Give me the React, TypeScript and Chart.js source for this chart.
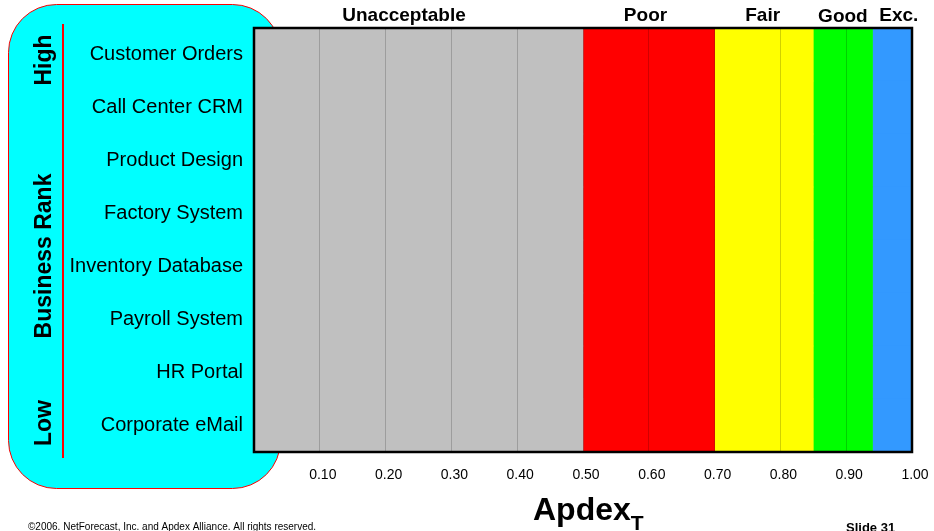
import React, { useEffect, useRef } from "react";
import { Chart, registerables } from "chart.js";

Chart.register(...registerables);

const categories = [
  "Customer Orders",
  "Call Center CRM",
  "Product Design",
  "Factory System",
  "Inventory Database",
  "Payroll System",
  "HR Portal",
  "Corporate eMail",
];
const bandLabels = ["Unacceptable", "Poor", "Fair", "Good", "Exc."];
const bandStarts = [0, 0.5, 0.7, 0.85, 0.94];
const bandEnds = [0.5, 0.7, 0.85, 0.94, 1.0];
const bandLabelAt = [0.228, 0.595, 0.773, 0.895, 0.98];
const bandColors = ["#c0c0c0", "#ff0000", "#ffff00", "#00ff00", "#3399ff"];
const rankLabels = ["High", "Business Rank", "Low"];
const xMin = 0;
const xMax = 1;
const xStep = 0.1;

const FONT = "'Liberation Sans', Arial, Helvetica, sans-serif";

const decorPlugin = {
  id: "decor",
  beforeDraw(chart: any) {
    const ctx = chart.ctx;
    ctx.save();
    ctx.fillStyle = "#ffffff";
    ctx.fillRect(0, 0, chart.width, chart.height);
    // cyan rounded panel
    const x = 8.5, y = 4.5, w = 272, h = 484, r = 48;
    ctx.beginPath();
    ctx.moveTo(x + r, y);
    ctx.lineTo(x + w - r, y);
    ctx.arcTo(x + w, y, x + w, y + r, r);
    ctx.lineTo(x + w, y + h - r);
    ctx.arcTo(x + w, y + h, x + w - r, y + h, r);
    ctx.lineTo(x + r, y + h);
    ctx.arcTo(x, y + h, x, y + h - r, r);
    ctx.lineTo(x, y + r);
    ctx.arcTo(x, y, x + r, y, r);
    ctx.closePath();
    ctx.fillStyle = "#00ffff";
    ctx.fill();
    ctx.strokeStyle = "#ff0000";
    ctx.lineWidth = 1;
    ctx.stroke();
    ctx.restore();
  },
  afterDraw(chart: any) {
    const ctx = chart.ctx;
    const area = chart.chartArea;
    const xs = chart.scales.x;
    ctx.save();
    // plot border
    ctx.strokeStyle = "#000";
    ctx.lineWidth = 2.5;
    ctx.strokeRect(area.left, area.top, area.right - area.left, area.bottom - area.top);
    // band labels
    ctx.fillStyle = "#000";
    ctx.font = `bold 19px ${FONT}`;
    ctx.textAlign = "center";
    ctx.textBaseline = "middle";
    bandLabels.forEach((lab, i) => {
      ctx.fillText(lab, xs.getPixelForValue(bandLabelAt[i]), i === 3 ? 17 : 16);
    });
    // red rank line
    ctx.strokeStyle = "#ff0000";
    ctx.lineWidth = 2;
    ctx.beginPath();
    ctx.moveTo(63, 24);
    ctx.lineTo(63, 458);
    ctx.stroke();
    // rotated rank labels
    ctx.fillStyle = "#000";
    ctx.font = `bold 23px ${FONT}`;
    const ys = [60, 256, 423];
    rankLabels.forEach((lab, i) => {
      ctx.save();
      ctx.translate(45, ys[i]);
      ctx.rotate(-Math.PI / 2);
      ctx.textAlign = "center";
      ctx.textBaseline = "middle";
      ctx.fillText(lab, 0, 0);
      ctx.restore();
    });
    // axis title Apdex_T
    ctx.textAlign = "left";
    ctx.textBaseline = "alphabetic";
    ctx.font = `bold 32px ${FONT}`;
    ctx.fillText("Apdex", 533, 520);
    const wA = ctx.measureText("Apdex").width;
    ctx.font = `bold 21px ${FONT}`;
    ctx.fillText("T", 533 + wA, 530);
    // footer
    ctx.font = `10px ${FONT}`;
    ctx.fillText("\u00a92006. NetForecast, Inc. and Apdex Alliance. All rights reserved.", 28, 530);
    ctx.font = `bold 13px ${FONT}`;
    ctx.fillText("Slide 31", 846, 532);
    ctx.restore();
  },
};

export default function App() {
  const ref = useRef<HTMLCanvasElement | null>(null);
  useEffect(() => {
    if (!ref.current) return;
    const chart = new Chart(ref.current, {
      type: "bar",
      data: {
        labels: categories,
        datasets: bandLabels.map((lab, i) => ({
          label: lab,
          data: categories.map(() => [bandStarts[i], bandEnds[i]] as any),
          backgroundColor: bandColors[i],
          borderWidth: 0,
          barPercentage: 1,
          categoryPercentage: 1,
          grouped: false,
        })),
      },
      options: {
        indexAxis: "y",
        animation: false,
        responsive: false,
        maintainAspectRatio: false,
        layout: { padding: { top: 28, right: 22, bottom: 0, left: 0 } },
        plugins: { legend: { display: false }, tooltip: { enabled: false } },
        scales: {
          x: {
            type: "linear",
            min: xMin,
            max: xMax,
            afterFit: (s: any) => {
              s.height = 79;
              s.paddingLeft = 0;
              s.paddingRight = 0;
            },
            grid: {
              z: 1,
              color: "rgba(0,0,0,0.18)",
              lineWidth: 1,
              drawTicks: false,
            },
            border: { display: false },
            ticks: {
              stepSize: xStep,
              padding: 15,
              color: "#000",
              labelOffset: 3,
              font: { family: FONT, size: 14 },
              callback: (v: any) => (Number(v) === 0 ? "" : Number(v).toFixed(2)),
            },
          },
          y: {
            type: "category",
            afterFit: (s: any) => {
              s.width = 254;
              s.paddingTop = 0;
              s.paddingBottom = 0;
            },
            grid: { display: false, drawTicks: false },
            border: { display: false },
            ticks: {
              padding: 11,
              color: "#000",
              font: { family: FONT, size: 20 },
            },
          },
        },
      },
      plugins: [decorPlugin],
    } as any);
    return () => chart.destroy();
  }, []);
  return (
    <div style={{ position: "fixed", left: 0, top: 0, width: 934, height: 531, background: "#fff" }}>
      <canvas ref={ref} width={934} height={531} style={{ display: "block" }} />
    </div>
  );
}
